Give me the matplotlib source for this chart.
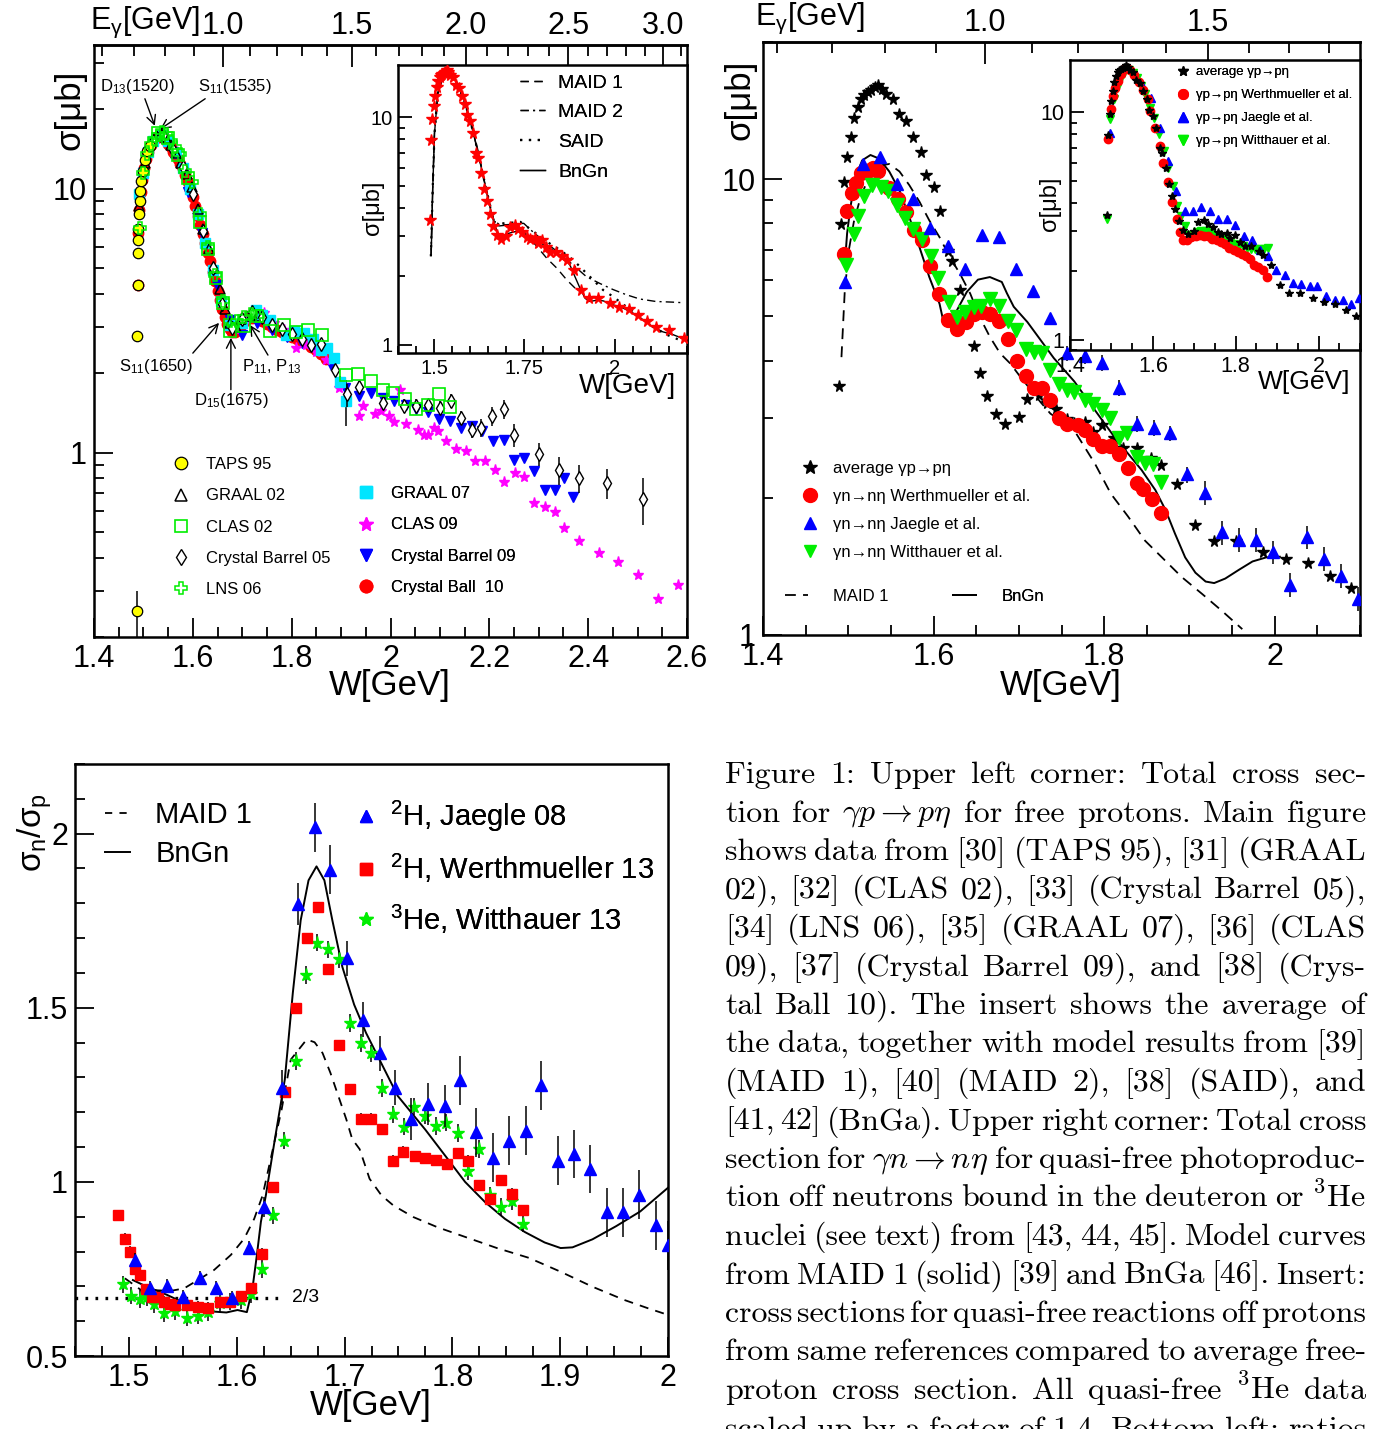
import re
import numpy as np
import matplotlib
matplotlib.use("Agg")
import matplotlib.pyplot as plt
from matplotlib.lines import Line2D
from matplotlib.ticker import (MultipleLocator, FixedLocator, LogLocator,
                               NullFormatter, FuncFormatter)

plt.rcParams['font.family'] = ['Liberation Sans', 'DejaVu Sans']
plt.rcParams['mathtext.fontset'] = 'custom'
plt.rcParams['mathtext.rm'] = 'Liberation Sans'
plt.rcParams['mathtext.it'] = 'Liberation Sans:italic'
plt.rcParams['mathtext.bf'] = 'Liberation Sans:bold'

# ---------------- upper left: free proton data (W [GeV], sigma [mub]) ----------------
taps_w = [1.4875, 1.4880, 1.4885, 1.4890, 1.4895, 1.4900, 1.4910, 1.4925, 1.4940, 1.4960, 1.4990, 1.5030, 1.5080, 1.5130]
taps_s = [0.25, 2.76, 4.3, 5.7, 6.4, 7.0, 8.0, 9.0, 9.8, 10.7, 11.7, 12.8, 13.9, 14.5]
taps_elo = [0.10, 0, 0, 0, 0, 0, 0, 0, 0, 0, 0, 0, 0, 0]
taps_ehi = [0.05, 0, 0, 0, 0, 0, 0, 0, 0, 0, 0, 0, 0, 0]

graal02_w = [1.492, 1.497, 1.503, 1.510, 1.518, 1.527, 1.536, 1.546, 1.556, 1.566, 1.577, 1.588, 1.599,
             1.610, 1.621, 1.632, 1.643, 1.654, 1.665, 1.676, 1.687, 1.698, 1.709, 1.720, 1.731]
graal02_s = [8.6, 11.0, 12.5, 14.0, 15.1, 15.8, 16.1, 15.6, 14.6, 13.6, 12.5, 11.4, 10.1,
             8.4, 7.0, 5.9, 5.0, 4.15, 3.5, 3.1, 3.0, 3.2, 3.3, 3.35, 3.3]

clas02_w = [1.53, 1.55, 1.57, 1.59, 1.615, 1.631, 1.647, 1.661, 1.676, 1.704, 1.73, 1.756, 1.784, 1.808,
            1.834, 1.862, 1.91, 1.934, 1.96, 1.984, 2.006, 2.03, 2.052, 2.076, 2.098, 2.12]
clas02_s = [16.2, 15.6, 13.4, 11.0, 7.5, 5.9, 4.6, 3.7, 2.88, 3.01, 3.3, 2.88, 3.05, 2.85,
            2.92, 2.78, 1.96, 1.99, 1.86, 1.73, 1.68, 1.59, 1.46, 1.51, 1.66, 1.49]

cb05_w = [1.52, 1.54, 1.56, 1.58, 1.60, 1.62, 1.64, 1.66, 1.68, 1.70, 1.72, 1.74, 1.76, 1.78, 1.80, 1.82, 1.84,
          1.86, 1.888, 1.912, 1.936, 1.984, 2.028, 2.052, 2.076, 2.10, 2.122, 2.142, 2.164, 2.184, 2.206,
          2.229, 2.249, 2.30, 2.341, 2.381, 2.438, 2.51]
cb05_s = [15.2, 16.0, 14.0, 12.1, 9.5, 6.9, 5.0, 3.65, 2.97, 3.2, 3.4, 3.25, 3.05, 2.93, 2.82, 2.70, 2.55,
          2.58, 2.06, 1.66, 1.77, 1.54, 1.50, 1.50, 1.51, 1.48, 1.57, 1.35, 1.22, 1.24, 1.375,
          1.46, 1.17, 0.985, 0.858, 0.798, 0.764, 0.665]
cb05_rel = [0.03, 0.03, 0.03, 0.03, 0.03, 0.03, 0.03, 0.03, 0.03, 0.03, 0.03, 0.03, 0.03, 0.03, 0.03, 0.03, 0.03,
            0.04, 0.05, 0.1, 0.05, 0.06, 0.06, 0.06, 0.06, 0.06, 0.06, 0.06, 0.07, 0.08, 0.08,
            0.08, 0.1, 0.1, 0.12, 0.12, 0.13, 0.2]

lns06_w = [1.493, 1.500, 1.507, 1.515, 1.522, 1.530, 1.538, 1.546, 1.555, 1.564, 1.574, 1.584, 1.598,
           1.615, 1.630, 1.645, 1.661, 1.675, 1.689, 1.703, 1.717, 1.731]
lns06_s = [7.1, 11.5, 13.5, 14.8, 15.4, 15.9, 16.4, 16.1, 15.2, 14.4, 13.5, 11.7, 10.6,
           8.0, 6.0, 4.7, 3.74, 3.15, 3.15, 3.25, 3.35, 3.3]

graal07_w = [1.492, 1.50, 1.51, 1.52, 1.535, 1.55, 1.565, 1.58, 1.595, 1.61, 1.625, 1.64, 1.656, 1.676,
             1.70, 1.728, 1.74, 1.756, 1.788, 1.804, 1.824, 1.844, 1.86, 1.872, 1.886, 1.898, 1.91]
graal07_s = [9.5, 11.5, 13.8, 15.2, 16.0, 15.1, 13.7, 12.0, 10.0, 8.0, 6.2, 4.9, 3.74, 3.05,
             3.1, 3.47, 3.33, 3.19, 2.78, 2.88, 2.84, 2.70, 2.45, 2.49, 2.28, 1.85, 1.57]
graal07_rel = [0, 0, 0, 0, 0, 0, 0, 0, 0, 0, 0, 0, 0, 0,
               0, 0, 0, 0, 0, 0, 0, 0, 0, 0, 0, 0.05, 0.2]

clas09_w = [1.685, 1.705, 1.725, 1.744, 1.765, 1.785, 1.808, 1.83, 1.85, 1.87, 1.896, 1.936, 1.944, 1.968,
            1.98, 1.996, 2.008, 2.02, 2.032, 2.056, 2.068, 2.076, 2.088, 2.096, 2.112, 2.132, 2.152, 2.172,
            2.192, 2.212, 2.230, 2.252, 2.270, 2.290, 2.312, 2.332, 2.352, 2.382, 2.422, 2.46, 2.50, 2.542, 2.582]
clas09_s = [2.95, 3.2, 3.4, 3.38, 3.1, 2.9, 2.49, 2.55, 2.4, 2.25, 1.76, 1.375, 1.50, 1.395,
            1.44, 1.375, 1.30, 1.73, 1.28, 1.22, 1.17, 1.17, 1.24, 1.21, 1.11, 1.03, 1.015, 0.925,
            0.925, 0.858, 0.775, 0.84, 0.805, 0.642, 0.62, 0.594, 0.518, 0.461, 0.417, 0.385, 0.343, 0.278, 0.314]

cb09_w = [1.50, 1.52, 1.54, 1.56, 1.59, 1.618, 1.649, 1.675, 1.70, 1.73, 1.76, 1.79, 1.82, 1.85, 1.88,
          1.908, 1.936, 1.96, 1.984, 2.008, 2.032, 2.052, 2.076, 2.098, 2.12, 2.142, 2.164, 2.186, 2.208,
          2.229, 2.25, 2.27, 2.29, 2.312, 2.332, 2.352, 2.37]
cb09_s = [11.5, 15.0, 15.6, 13.8, 9.7, 6.76, 4.3, 3.18, 2.78, 3.1, 2.9, 2.75, 2.6, 2.45, 2.15,
          1.76, 1.64, 1.68, 1.61, 1.57, 1.52, 1.46, 1.42, 1.34, 1.32, 1.24, 1.26, 1.21, 1.11,
          1.12, 0.935, 0.952, 0.853, 0.72, 0.72, 0.80, 0.676]

cb10_w = [1.4885, 1.490, 1.492, 1.495, 1.498, 1.502, 1.506, 1.510, 1.515, 1.520, 1.525, 1.530, 1.535, 1.540,
          1.545, 1.550, 1.555, 1.560, 1.565, 1.570, 1.575, 1.580, 1.585, 1.590, 1.595, 1.600, 1.605, 1.610,
          1.615, 1.620, 1.625, 1.630, 1.635, 1.640, 1.645, 1.650, 1.655, 1.660, 1.665, 1.670, 1.675, 1.680,
          1.685, 1.690, 1.695, 1.700, 1.705, 1.710, 1.720, 1.730, 1.740, 1.750, 1.760, 1.770, 1.780, 1.790,
          1.800, 1.810, 1.820, 1.830, 1.840, 1.850, 1.860, 1.870]
cb10_s = [4.3, 6.8, 8.3, 9.7, 10.8, 12.0, 13.0, 13.8, 14.6, 15.1, 15.5, 15.8, 15.9, 15.7,
          15.3, 14.8, 14.4, 13.8, 13.4, 12.9, 12.4, 11.9, 11.3, 10.6, 9.9, 9.3, 8.6, 7.9,
          7.3, 6.7, 6.2, 5.7, 5.3, 4.85, 4.45, 4.1, 3.8, 3.5, 3.27, 3.07, 2.93, 2.85,
          2.86, 2.93, 3.0, 3.08, 3.15, 3.2, 3.24, 3.22, 3.15, 3.06, 2.98, 2.91, 2.85, 2.79,
          2.74, 2.69, 2.64, 2.59, 2.52, 2.44, 2.36, 2.27]

# average of the free proton data (insert upper left, stars upper right)
avg_w = [1.489, 1.491, 1.4955, 1.499, 1.503, 1.507, 1.511, 1.515, 1.519, 1.523, 1.527, 1.531, 1.535, 1.539,
         1.544, 1.553, 1.560, 1.568, 1.576, 1.585, 1.591, 1.600, 1.607, 1.617, 1.622, 1.631, 1.639, 1.647,
         1.654, 1.663, 1.673, 1.684, 1.700, 1.709, 1.724, 1.733, 1.744, 1.757, 1.765, 1.778, 1.787, 1.798,
         1.811, 1.822, 1.838, 1.855, 1.867, 1.886, 1.907, 1.929, 1.955, 1.986, 2.013, 2.039, 2.065, 2.090,
         2.114, 2.151, 2.192]
avg_s = [3.52, 7.97, 9.87, 11.2, 12.4, 13.6, 14.4, 15.0, 15.3, 15.5, 15.7, 15.9, 16.1, 15.8,
         15.4, 15.0, 13.9, 13.4, 12.4, 11.5, 10.2, 9.6, 8.5, 6.95, 6.63, 5.7, 4.85, 4.30,
         3.76, 3.34, 3.05, 2.91, 3.01, 3.29, 3.37, 3.23, 3.13, 2.98, 2.92, 2.94, 2.79, 2.89,
         2.70, 2.57, 2.57, 2.45, 2.36, 2.14, 1.74, 1.61, 1.61, 1.52, 1.47, 1.44, 1.35, 1.27,
         1.20, 1.16, 1.07]

# model curves, insert upper left
ins_bngn_w = [1.492, 1.496, 1.501, 1.510, 1.524, 1.538, 1.551, 1.565, 1.583, 1.602, 1.620, 1.638, 1.652,
              1.666, 1.679, 1.693, 1.712, 1.730, 1.748, 1.766, 1.789, 1.812, 1.835, 1.858, 1.876, 1.890,
              1.904, 1.918, 1.931, 1.950, 1.968, 1.995, 2.023, 2.050, 2.078, 2.105, 2.133, 2.160, 2.192]
ins_bngn_s = [2.52, 4.78, 8.48, 12.7, 15.0, 16.0, 15.3, 14.0, 11.9, 9.4, 7.17, 5.29, 4.18,
              3.42, 3.04, 3.04, 3.11, 3.16, 3.11, 2.97, 2.84, 2.70, 2.57, 2.42, 2.24, 1.99,
              1.77, 1.60, 1.55, 1.57, 1.56, 1.50, 1.45, 1.38, 1.29, 1.20, 1.14, 1.11, 1.06]
ins_maid1_w = [1.492, 1.496, 1.501, 1.510, 1.524, 1.538, 1.551, 1.565, 1.583, 1.602, 1.620, 1.638, 1.652,
               1.666, 1.679, 1.702, 1.730, 1.757, 1.785, 1.812, 1.840, 1.867, 1.894]
ins_maid1_s = [2.6, 4.9, 8.6, 12.8, 15.1, 16.1, 15.4, 14.1, 12.0, 9.5, 7.3, 5.4, 4.3,
               3.5, 3.33, 3.36, 3.36, 3.04, 2.70, 2.40, 2.17, 1.93, 1.75]
ins_maid2_w = [1.491, 1.496, 1.501, 1.510, 1.524, 1.538, 1.551, 1.565, 1.583, 1.602, 1.620, 1.638, 1.652,
               1.666, 1.684, 1.721, 1.748, 1.776, 1.812, 1.849, 1.885, 1.922, 1.959, 1.995, 2.032, 2.069,
               2.114, 2.160, 2.192]
ins_maid2_s = [2.45, 4.8, 8.5, 12.7, 15.0, 16.0, 15.3, 14.0, 11.9, 9.4, 7.2, 5.35, 4.25,
               3.5, 3.36, 3.39, 3.42, 3.11, 2.79, 2.51, 2.24, 1.99, 1.86, 1.75, 1.66, 1.59,
               1.55, 1.54, 1.53]
ins_said_w = [1.491, 1.496, 1.501, 1.510, 1.524, 1.538, 1.551, 1.565, 1.583, 1.602, 1.620, 1.638, 1.652,
              1.666, 1.693, 1.739, 1.776, 1.812, 1.849, 1.885, 1.913, 1.940, 1.968, 1.995, 2.032, 2.069,
              2.105, 2.142, 2.192]
ins_said_s = [2.45, 4.8, 8.5, 12.7, 15.0, 16.0, 15.3, 14.0, 11.9, 9.4, 7.2, 5.35, 4.3,
              3.47, 3.42, 3.47, 3.14, 2.84, 2.61, 2.36, 2.13, 1.93, 1.74, 1.63, 1.47, 1.33,
              1.20, 1.11, 1.03]

# ---------------- upper right: quasi-free neutron data ----------------
qn_wm_w = [1.4947, 1.4986, 1.5038, 1.5085, 1.5144, 1.520, 1.525, 1.529, 1.535, 1.548, 1.558, 1.568, 1.577,
           1.587, 1.596, 1.606, 1.617, 1.628, 1.638, 1.647, 1.657, 1.666, 1.677, 1.687, 1.698, 1.708, 1.718,
           1.727, 1.737, 1.747, 1.757, 1.769, 1.778, 1.787, 1.797, 1.807, 1.818, 1.828, 1.838, 1.846, 1.856, 1.867]
qn_wm_s = [6.85, 8.52, 9.33, 9.82, 10.3, 10.4, 10.5, 10.6, 10.4, 9.55, 9.07, 8.48, 7.73,
           7.35, 6.45, 5.61, 4.92, 4.69, 4.87, 5.05, 5.11, 5.07, 4.89, 4.47, 4.0, 3.70, 3.48,
           3.48, 3.28, 2.99, 2.91, 2.89, 2.81, 2.69, 2.60, 2.60, 2.49, 2.32, 2.15, 2.09, 1.99, 1.85]
qn_ja_w = [1.496, 1.517, 1.537, 1.557, 1.576, 1.596, 1.617, 1.637, 1.657, 1.677, 1.697, 1.717, 1.737, 1.757,
           1.778, 1.797, 1.818, 1.838, 1.858, 1.877, 1.897, 1.918, 1.938, 1.958, 1.978, 1.998, 2.018, 2.038,
           2.058, 2.078, 2.098]
qn_ja_s = [5.95, 10.8, 11.2, 9.78, 9.07, 7.8, 7.13, 6.34, 7.56, 7.45, 6.34, 5.69, 4.97, 4.15,
           4.09, 3.96, 3.48, 2.91, 2.85, 2.77, 2.25, 2.05, 1.68, 1.62, 1.62, 1.52, 1.29, 1.64,
           1.47, 1.35, 1.20]
qn_ja_rel = [0.02, 0.02, 0.02, 0.02, 0.02, 0.02, 0.02, 0.02, 0.02, 0.02, 0.02, 0.02, 0.02, 0.04,
             0.04, 0.04, 0.04, 0.04, 0.04, 0.04, 0.04, 0.06, 0.06, 0.06, 0.06, 0.06, 0.06, 0.06,
             0.06, 0.06, 0.06]
qn_wi_w = [1.497, 1.5065, 1.5116, 1.519, 1.528, 1.538, 1.546, 1.557, 1.567, 1.5755, 1.587, 1.597, 1.605,
           1.618, 1.627, 1.637, 1.647, 1.656, 1.666, 1.677, 1.687, 1.697, 1.708, 1.718, 1.727, 1.737, 1.747,
           1.756, 1.765, 1.777, 1.787, 1.797, 1.807, 1.818, 1.827, 1.838, 1.848, 1.857, 1.867]
qn_wi_s = [6.47, 7.6, 8.3, 9.18, 9.7, 9.6, 9.42, 8.76, 8.2, 7.76, 7.4, 6.77, 6.06,
           5.38, 4.98, 5.11, 5.25, 5.28, 5.47, 5.28, 4.89, 4.66, 4.25, 4.18, 4.16, 3.81, 3.55,
           3.44, 3.42, 3.28, 3.21, 3.12, 2.99, 2.70, 2.77, 2.46, 2.39, 2.37, 2.17]
n_bngn_w = [1.496, 1.4986, 1.5026, 1.5085, 1.5163, 1.526, 1.536, 1.548, 1.560, 1.5716, 1.5834, 1.595, 1.607,
            1.612, 1.616, 1.623, 1.639, 1.652, 1.666, 1.680, 1.686, 1.694, 1.710, 1.725, 1.741, 1.765, 1.781,
            1.796, 1.812, 1.828, 1.844, 1.860, 1.872, 1.883, 1.895, 1.907, 1.919, 1.929, 1.942, 1.958, 1.974,
            1.990, 2.006]
n_bngn_s = [6.53, 7.6, 8.7, 10.1, 11.0, 11.3, 11.1, 10.4, 9.45, 8.25, 7.1, 6.1, 5.33,
            4.83, 4.78, 4.98, 5.66, 6.02, 6.1, 5.95, 5.62, 5.25, 4.86, 4.45, 4.05, 3.6, 3.27,
            2.99, 2.72, 2.5, 2.30, 2.08, 1.88, 1.67, 1.48, 1.37, 1.31, 1.30, 1.33, 1.39, 1.45,
            1.48, 1.485]
n_maid1_w = [1.492, 1.4959, 1.5006, 1.5065, 1.5144, 1.524, 1.536, 1.548, 1.560, 1.5716, 1.5834, 1.595, 1.607,
             1.619, 1.631, 1.643, 1.654, 1.666, 1.678, 1.690, 1.702, 1.714, 1.725, 1.737, 1.749, 1.765, 1.789,
             1.808, 1.828, 1.848, 1.867, 1.891, 1.915, 1.938, 1.962]
n_maid1_s = [4.07, 5.7, 6.98, 8.06, 9.13, 10.1, 10.7, 10.8, 10.4, 9.7, 8.93, 8.12, 7.46,
             6.75, 6.2, 5.61, 4.99, 4.51, 4.15, 3.94, 3.68, 3.45, 3.25, 3.06, 2.95, 2.81, 2.38,
             2.04, 1.82, 1.61, 1.485, 1.34, 1.23, 1.13, 1.03]

# insert upper right: quasi-free proton data
qp_wm_w = [1.4914, 1.4987, 1.5036, 1.5092, 1.5149, 1.523, 1.5311, 1.5375, 1.5456, 1.5553, 1.5659, 1.5764,
           1.5877, 1.5942, 1.6063, 1.6168, 1.6249, 1.6362, 1.6451, 1.6573, 1.6654, 1.6735, 1.6832, 1.6929,
           1.7034, 1.7139, 1.7236, 1.7341, 1.7439, 1.7544, 1.7641, 1.7746, 1.7843, 1.7948, 1.8045, 1.8142,
           1.8248, 1.8353, 1.845, 1.8547, 1.8652, 1.8757]
qp_wm_s = [7.66, 10.3, 11.8, 12.8, 13.7, 14.7, 15.5, 15.7, 15.4, 14.6, 13.6, 12.6,
           11.5, 10.1, 8.56, 7.11, 5.96, 4.93, 4.03, 3.38, 2.97, 2.74, 2.74, 2.83,
           2.87, 2.90, 2.87, 2.85, 2.78, 2.74, 2.68, 2.64, 2.53, 2.48, 2.43, 2.38,
           2.33, 2.27, 2.12, 2.09, 2.02, 1.88]
qp_ja_w = [1.4955, 1.5359, 1.5764, 1.5958, 1.6168, 1.6362, 1.6565, 1.6767, 1.6969, 1.7172, 1.7374, 1.7576,
           1.7778, 1.798, 1.8191, 1.8385, 1.8587, 1.8773, 1.8976, 1.9178, 1.938, 1.9583, 1.9785, 1.9971,
           2.0173, 2.0392, 2.0578, 2.078, 2.0982]
qp_ja_s = [8.14, 15.7, 12.98, 11.6, 8.56, 6.1, 4.5, 3.67, 3.68, 3.84, 3.68, 3.38,
           3.38, 3.18, 2.85, 2.74, 2.49, 2.34, 2.02, 1.93, 1.77, 1.75, 1.72, 1.73,
           1.56, 1.50, 1.50, 1.44, 1.53]
qp_wi_w = [1.489, 1.4971, 1.5052, 1.5133, 1.5214, 1.5294, 1.5416, 1.5521, 1.5618, 1.5715, 1.582, 1.5926,
           1.6039, 1.6152, 1.6265, 1.637, 1.6476, 1.6573, 1.667, 1.6775, 1.6872, 1.6977, 1.7074, 1.7172,
           1.7277, 1.7374, 1.748, 1.7576, 1.7673, 1.777, 1.7867, 1.7964, 1.8069, 1.8167, 1.8272, 1.8369,
           1.8474, 1.8579, 1.8677, 1.8774]
qp_wi_s = [3.38, 9.31, 11.5, 12.8, 13.9, 14.9, 15.4, 14.9, 14.1, 13.1, 12.0, 10.5,
           9.47, 8.0, 6.76, 5.7, 4.73, 3.87, 3.49, 3.16, 2.90, 2.90, 2.97, 3.0,
           3.0, 2.95, 2.87, 2.84, 2.78, 2.74, 2.68, 2.64, 2.59, 2.57, 2.53, 2.51,
           2.51, 2.51, 2.51, 2.53]

# ---------------- bottom left: ratio sigma_n / sigma_p ----------------
r_ja_w = [1.5055, 1.520, 1.535, 1.5506, 1.5657, 1.5812, 1.596, 1.6118, 1.6255, 1.6417, 1.6568, 1.6726,
          1.6869, 1.7027, 1.717, 1.7328, 1.7468, 1.762, 1.777, 1.793, 1.8074, 1.8221, 1.8376, 1.8524,
          1.8679, 1.8826, 1.8978, 1.9125, 1.928, 1.9435, 1.9583, 1.9734, 1.9889, 2.0]
r_ja = [0.775, 0.696, 0.70, 0.67, 0.723, 0.696, 0.666, 0.809, 0.928, 1.27, 1.797, 2.018,
        1.896, 1.642, 1.466, 1.369, 1.27, 1.18, 1.223, 1.218, 1.292, 1.142, 1.07, 1.118,
        1.147, 1.277, 1.061, 1.08, 1.037, 0.913, 0.913, 0.963, 0.875, 0.818]
r_ja_err = [0.02, 0.02, 0.02, 0.02, 0.02, 0.02, 0.02, 0.02, 0.03, 0.05, 0.06, 0.07,
            0.07, 0.05, 0.05, 0.05, 0.05, 0.06, 0.06, 0.06, 0.07, 0.07, 0.07, 0.07,
            0.07, 0.07, 0.07, 0.07, 0.07, 0.07, 0.07, 0.07, 0.07, 0.07]
r_wm_w = [1.490, 1.4963, 1.5007, 1.5055, 1.5103, 1.5159, 1.5214, 1.527, 1.5325, 1.538, 1.5432, 1.5535,
          1.5638, 1.5738, 1.5841, 1.5934, 1.6037, 1.6137, 1.6236, 1.634, 1.6446, 1.6546, 1.6649, 1.6751,
          1.685, 1.6953, 1.7052, 1.7151, 1.7247, 1.7347, 1.7446, 1.7546, 1.765, 1.7749, 1.7852, 1.7952,
          1.8052, 1.8148, 1.8251, 1.835, 1.845, 1.8554, 1.8653]
r_wm = [0.904, 0.837, 0.80, 0.75, 0.732, 0.692, 0.668, 0.668, 0.656, 0.649, 0.647, 0.647,
        0.642, 0.639, 0.654, 0.654, 0.673, 0.696, 0.794, 0.985, 1.258, 1.499, 1.699, 1.789,
        1.611, 1.392, 1.266, 1.182, 1.182, 1.151, 1.061, 1.087, 1.075, 1.068, 1.063, 1.051,
        1.082, 1.061, 0.991, 0.951, 1.004, 0.966, 0.92]
r_wm_err = 0.015
r_wi_w = [1.4945, 1.5018, 1.5103, 1.5166, 1.5232, 1.5325, 1.5424, 1.5535, 1.5638, 1.5738, 1.5841, 1.5941,
          1.6041, 1.6137, 1.6236, 1.634, 1.6439, 1.6546, 1.6641, 1.6747, 1.685, 1.6953, 1.7052, 1.7151,
          1.7247, 1.7347, 1.7449, 1.7548, 1.7648, 1.7743, 1.7849, 1.7945, 1.8051, 1.8148, 1.8251, 1.835,
          1.845, 1.8554, 1.8653]
r_wi = [0.706, 0.673, 0.664, 0.668, 0.649, 0.623, 0.629, 0.61, 0.616, 0.626, 0.651, 0.656,
        0.661, 0.677, 0.75, 0.904, 1.118, 1.347, 1.594, 1.687, 1.668, 1.639, 1.456, 1.399,
        1.369, 1.27, 1.194, 1.159, 1.216, 1.19, 1.16, 1.17, 1.14, 1.03, 1.094, 0.961,
        0.928, 0.944, 0.88]
r_wi_err = 0.025
r_bngn_w = [1.5037, 1.5166, 1.535, 1.5535, 1.572, 1.5904, 1.6007, 1.6094, 1.6146, 1.6187, 1.6224, 1.627,
            1.6354, 1.6446, 1.652, 1.6593, 1.6666, 1.674, 1.6813, 1.6887, 1.6979, 1.7089, 1.7199, 1.7347,
            1.7493, 1.7749, 1.7934, 1.8118, 1.8303, 1.8487, 1.8672, 1.8856, 1.9004, 1.9114, 1.9299, 1.952,
            1.9742, 2.0007]
r_bngn = [0.718, 0.699, 0.676, 0.649, 0.629, 0.625, 0.632, 0.626, 0.694, 0.79, 0.885, 0.961,
          1.123, 1.294, 1.542, 1.751, 1.866, 1.906, 1.866, 1.751, 1.618, 1.509, 1.428, 1.337,
          1.247, 1.15, 1.075, 1.0, 0.942, 0.894, 0.856, 0.826, 0.81, 0.812, 0.835, 0.873,
          0.915, 0.985]
r_maid1_w = [1.4963, 1.511, 1.5232, 1.5387, 1.5511, 1.5666, 1.579, 1.5945, 1.6069, 1.6162, 1.624, 1.6417,
             1.6501, 1.6575, 1.6649, 1.6722, 1.6796, 1.6869, 1.6942, 1.7016, 1.7071, 1.714, 1.7232, 1.7343,
             1.7454, 1.7638, 1.786, 1.8118, 1.8413, 1.8708, 1.9004, 1.9299, 1.9594, 1.9815, 2.0]
r_maid1 = [0.723, 0.69, 0.689, 0.687, 0.694, 0.723, 0.747, 0.79, 0.837, 0.894, 0.961, 1.209,
           1.351, 1.38, 1.409, 1.401, 1.37, 1.313, 1.247, 1.18, 1.123, 1.094, 1.009, 0.961,
           0.932, 0.899, 0.87, 0.842, 0.81, 0.782, 0.742, 0.699, 0.661, 0.637, 0.618]
two_thirds_w = [1.45, 1.639]
two_thirds = [2 / 3, 2 / 3]

caption_lines = [
    "Figure 1:  Upper left corner:  Total cross sec-",
    r"tion for $\gamma p \rightarrow p\eta$ for free protons.  Main figure",
    "shows data from [30] (TAPS 95), [31] (GRAAL",
    "02), [32] (CLAS 02), [33] (Crystal Barrel 05),",
    "[34] (LNS 06), [35] (GRAAL 07), [36] (CLAS",
    "09), [37] (Crystal Barrel 09), and [38] (Crys-",
    "tal Ball 10).  The insert shows the average of",
    "the data, together with model results from [39]",
    "(MAID 1), [40] (MAID 2), [38] (SAID), and",
    "[41, 42] (BnGa). Upper right corner: Total cross",
    r"section for $\gamma n \rightarrow n\eta$ for quasi-free photoproduc-",
    "tion off neutrons bound in the deuteron or $^3$He",
    "nuclei (see text) from [43, 44, 45]. Model curves",
    "from MAID 1 (solid) [39] and BnGa [46]. Insert:",
    "cross sections for quasi-free reactions off protons",
    "from same references compared to average free-",
    "proton cross section.  All quasi-free $^3$He data",
    "scaled up by a factor of 1.4. Bottom left: ratios",
]

MP = 0.938
FW, FH = 1379, 1429


def w_to_eg(w):
    w = np.asarray(w, dtype=float)
    return (w * w - MP * MP) / (2 * MP)


def eg_to_w(e):
    e = np.asarray(e, dtype=float)
    return np.sqrt(np.maximum(MP * MP + 2 * MP * e, 1e-9))


def rect(l, t, r, b):
    return [l / FW, 1 - b / FH, (r - l) / FW, (b - t) / FH]


def fx(x):
    return x / FW


def fy(y):
    return 1 - y / FH


fmt_g = FuncFormatter(lambda v, p: '%g' % round(v, 4))


def frame(ax, lab=22, maj=14, mnr=7, pad=5):
    ax.tick_params(which='both', direction='in', width=1.3, labelsize=lab,
                   top=False, right=False, pad=pad)
    ax.tick_params(which='major', length=maj)
    ax.tick_params(which='minor', length=mnr)
    for sp in ax.spines.values():
        sp.set_linewidth(1.8)


def log_y(ax):
    ax.set_yscale('log')
    ax.yaxis.set_major_locator(FixedLocator([1, 10]))
    ax.yaxis.set_major_formatter(fmt_g)
    ax.yaxis.set_minor_locator(LogLocator(base=10, subs=np.arange(2, 10), numticks=20))
    ax.yaxis.set_minor_formatter(NullFormatter())


def top_axis(ax, majors, minors):
    sec = ax.secondary_xaxis('top', functions=(w_to_eg, eg_to_w))
    sec.xaxis.set_major_locator(FixedLocator(majors))
    sec.xaxis.set_major_formatter(FuncFormatter(lambda v, p: '%.1f' % v))
    sec.xaxis.set_minor_locator(FixedLocator(minors))
    sec.tick_params(which='both', direction='in', width=1.3, labelsize=22, pad=3)
    sec.tick_params(which='major', length=16)
    sec.tick_params(which='minor', length=8)
    for sp in sec.spines.values():
        sp.set_linewidth(1.8)
    return sec


def legend_at(ax, handles, labels, x, y, fs, **kw):
    leg = ax.legend(handles, labels, loc='upper left', bbox_to_anchor=(fx(x), fy(y)),
                    bbox_transform=fig.transFigure, frameon=False, borderpad=0,
                    borderaxespad=0, fontsize=fs, **kw)
    ax.add_artist(leg)
    return leg


def mk(marker, ms, fc, ec=None, mew=1.0):
    return Line2D([], [], ls='none', marker=marker, ms=ms, mfc=fc,
                  mec=fc if ec is None else ec, mew=mew)


def ln(style, lw=1.2):
    return Line2D([], [], color='black', ls=style, lw=lw)


RED, BLUE, GREEN = '#ff0000', '#0000ff', '#00ee00'
MAG, CYAN, YEL = '#ff00ff', '#00e5ff', '#ffff00'
EB = dict(ls='none', ecolor='black', elinewidth=1.1, capsize=0)

fig = plt.figure(figsize=(FW / 100, FH / 100), dpi=100)

# ======================= upper left =======================
ax1 = fig.add_axes(rect(94, 45, 687, 637))
frame(ax1)
ax1.set_xlim(1.4, 2.6)
log_y(ax1)
ax1.set_ylim(0.2, 35)
ax1.xaxis.set_major_locator(MultipleLocator(0.2))
ax1.xaxis.set_minor_locator(MultipleLocator(0.05))
ax1.xaxis.set_major_formatter(fmt_g)
top_axis(ax1, [1.0, 1.5, 2.0, 2.5, 3.0], np.arange(0.6, 3.15, 0.1))

ax1.plot(cb10_w, cb10_s, ls='none', marker='o', ms=7.5, mfc=RED, mec=RED, zorder=3)
ax1.plot(cb09_w, cb09_s, ls='none', marker='v', ms=7.5, mfc=BLUE, mec=BLUE, zorder=3)
ax1.errorbar(graal07_w, graal07_s, yerr=np.array(graal07_rel) * np.array(graal07_s),
             marker='s', ms=7, mfc=CYAN, mec=CYAN, zorder=4, **EB)
ax1.plot(clas09_w, clas09_s, ls='none', marker='*', ms=8, mfc=MAG, mec=MAG, zorder=4)
ax1.errorbar(cb05_w, cb05_s, yerr=np.array(cb05_rel) * np.array(cb05_s),
             marker='d', ms=7, mfc='white', mec='black', mew=1.0, zorder=5, **EB)
ax1.plot(graal02_w, graal02_s, ls='none', marker='^', ms=7.5, mfc='none', mec='black', mew=1.1, zorder=5)
ax1.errorbar(taps_w, taps_s, yerr=[taps_elo, taps_ehi], marker='o', ms=7.5, mfc=YEL, mec='black',
             mew=0.9, zorder=6, **EB)
ax1.plot(clas02_w, clas02_s, ls='none', marker='s', ms=8, mfc='none', mec=GREEN, mew=1.2, zorder=6)
ax1.plot(lns06_w, lns06_s, ls='none', marker='P', ms=8, mfc='none', mec=GREEN, mew=1.1, zorder=7)

arrow = dict(arrowstyle='->', lw=1.0, color='black', shrinkA=0, shrinkB=0, mutation_scale=16)
ax1.annotate('', xy=(1.523, 17.3), xytext=(1.503, 21.9), arrowprops=arrow)
ax1.annotate('', xy=(1.534, 16.8), xytext=(1.625, 21.9), arrowprops=arrow)
ax1.annotate('', xy=(1.653, 3.1), xytext=(1.600, 2.38), arrowprops=arrow)
ax1.annotate('', xy=(1.677, 2.72), xytext=(1.677, 1.73), arrowprops=arrow)
ax1.annotate('', xy=(1.716, 3.04), xytext=(1.752, 2.34), arrowprops=arrow)
ax1.text(1.487, 24.3, 'D$_{13}$(1520)', fontsize=12, ha='center', va='center')
ax1.text(1.685, 24.3, 'S$_{11}$(1535)', fontsize=12, ha='center', va='center')
ax1.text(1.5255, 2.11, 'S$_{11}$(1650)', fontsize=12, ha='center', va='center')
ax1.text(1.677, 1.57, 'D$_{15}$(1675)', fontsize=12, ha='center', va='center')
ax1.text(1.760, 2.11, 'P$_{11}$, P$_{13}$', fontsize=12, ha='center', va='center')

legend_at(ax1, [mk('o', 9, YEL, 'black', 0.9), mk('^', 9, 'none', 'black', 1.1),
                mk('s', 9, 'none', GREEN, 1.2), mk('d', 8, 'none', 'black', 1.0),
                mk('P', 9, 'none', GREEN, 1.1)],
          ['TAPS 95', 'GRAAL 02', 'CLAS 02', 'Crystal Barrel 05', 'LNS 06'],
          173, 457, 12, handlelength=1.0, handletextpad=1.0, labelspacing=0.98)
legend_at(ax1, [mk('s', 9, CYAN), mk('*', 10, MAG), mk('v', 9, BLUE), mk('o', 9, RED)],
          ['GRAAL 07', 'CLAS 09', 'Crystal Barrel 09', 'Crystal Ball  10'],
          358, 486, 12, handlelength=1.0, handletextpad=1.0, labelspacing=0.98)

fig.text(fx(390), fy(686), 'W[GeV]', fontsize=25, ha='center', va='center')
fig.text(fx(70), fy(110), 'σ[μb]', fontsize=25, rotation=90, ha='center', va='center')
fig.text(fx(90), fy(22), r'E$_{\mathrm{\gamma}}$[GeV]', fontsize=22, ha='left', va='center')

# insert upper left
ax1i = fig.add_axes(rect(398, 65, 687, 353))
frame(ax1i, lab=14.5, maj=10, mnr=5, pad=4)
ax1i.set_xlim(1.4, 2.2)
log_y(ax1i)
ax1i.set_ylim(0.92, 17)
ax1i.xaxis.set_major_locator(MultipleLocator(0.25))
ax1i.xaxis.set_minor_locator(MultipleLocator(0.05))
ax1i.xaxis.set_major_formatter(fmt_g)
ax1i.plot(ins_maid1_w, ins_maid1_s, color='black', lw=1.0, ls=(0, (6, 4)))
ax1i.plot(ins_maid2_w, ins_maid2_s, color='black', lw=1.0, ls=(0, (6, 3, 1.5, 3)))
ax1i.plot(ins_said_w, ins_said_s, color='black', lw=1.6, ls=(0, (1, 3)))
ax1i.plot(ins_bngn_w, ins_bngn_s, color='black', lw=1.0)
ax1i.plot(avg_w, avg_s, ls='none', marker='*', ms=8.5, mfc=RED, mec=RED, zorder=4)
legend_at(ax1i, [ln((0, (6, 4)), 1.0), ln((0, (6, 3, 1.5, 3)), 1.0), ln((0, (1, 3)), 1.6), ln('-', 1.0)],
          ['MAID 1', 'MAID 2', 'SAID', 'BnGn'], 520, 74, 14,
          handlelength=1.29, handletextpad=0.67, labelspacing=0.62)
fig.text(fx(373), fy(208), 'σ[μb]', fontsize=17, rotation=90, ha='center', va='center')
fig.text(fx(676), fy(386), 'W[GeV]', fontsize=20, ha='right', va='center')

# ======================= upper right =======================
ax2 = fig.add_axes(rect(763, 42, 1360, 635))
frame(ax2)
ax2.set_xlim(1.4, 2.1)
log_y(ax2)
ax2.set_ylim(1, 20)
ax2.xaxis.set_major_locator(MultipleLocator(0.2))
ax2.xaxis.set_minor_locator(MultipleLocator(0.05))
ax2.xaxis.set_major_formatter(fmt_g)
top_axis(ax2, [1.0, 1.5], np.arange(0.6, 1.85, 0.1))

ax2.plot(n_maid1_w, n_maid1_s, color='black', lw=1.3, ls=(0, (6, 4)), zorder=2)
ax2.plot(n_bngn_w, n_bngn_s, color='black', lw=1.4, zorder=2)
ax2.plot(avg_w, avg_s, ls='none', marker='*', ms=8.5, mfc='black', mec='black', zorder=3)
ax2.plot(qn_wm_w, qn_wm_s, ls='none', marker='o', ms=10, mfc=RED, mec=RED, zorder=4)
ax2.plot(qn_wi_w, qn_wi_s, ls='none', marker='v', ms=9.5, mfc=GREEN, mec=GREEN, zorder=4)
ax2.errorbar(qn_ja_w, qn_ja_s, yerr=np.array(qn_ja_rel) * np.array(qn_ja_s),
             marker='^', ms=9, mfc=BLUE, mec=BLUE, zorder=5, **EB)

legend_at(ax2, [mk('*', 10, 'black'), mk('o', 10, RED), mk('^', 9, BLUE), mk('v', 9, GREEN)],
          ['average γp→pη', 'γn→nη Werthmueller et al.', 'γn→nη Jaegle et al.', 'γn→nη Witthauer et al.'],
          802, 461, 12, handlelength=1.0, handletextpad=0.87, labelspacing=0.78)
legend_at(ax2, [ln((0, (6, 4)), 1.3)], ['MAID 1'], 785, 589, 12, handlelength=1.4, handletextpad=1.5)
legend_at(ax2, [ln('-', 1.4)], ['BnGn'], 953, 589, 12, handlelength=1.4, handletextpad=1.5)

fig.text(fx(1061), fy(685), 'W[GeV]', fontsize=25, ha='center', va='center')
fig.text(fx(740), fy(100), 'σ[μb]', fontsize=25, rotation=90, ha='center', va='center')
fig.text(fx(755), fy(1), r'E$_{\mathrm{\gamma}}$[GeV]', fontsize=22, ha='left', va='top')

# insert upper right
ax2i = fig.add_axes(rect(1070, 60, 1360, 350))
frame(ax2i, lab=15.5, maj=10, mnr=5, pad=4)
ax2i.set_xlim(1.4, 2.1)
log_y(ax2i)
ax2i.set_ylim(0.9, 17)
ax2i.xaxis.set_major_locator(MultipleLocator(0.2))
ax2i.xaxis.set_minor_locator(MultipleLocator(0.05))
ax2i.xaxis.set_major_formatter(fmt_g)
ax2i.plot(qp_wi_w, qp_wi_s, ls='none', marker='v', ms=6, mfc=GREEN, mec=GREEN, zorder=3)
ax2i.plot(qp_ja_w, qp_ja_s, ls='none', marker='^', ms=6, mfc=BLUE, mec=BLUE, zorder=3)
ax2i.plot(qp_wm_w, qp_wm_s, ls='none', marker='o', ms=6, mfc=RED, mec=RED, zorder=4)
ax2i.plot(avg_w, avg_s, ls='none', marker='*', ms=6, mfc='black', mec='black', zorder=5)
legend_at(ax2i, [mk('*', 7, 'black'), mk('o', 7, RED), mk('^', 6.5, BLUE), mk('v', 6.5, GREEN)],
          ['average γp→pη', 'γp→pη Werthmueller et al.', 'γp→pη Jaegle et al.', 'γp→pη Witthauer et al.'],
          1178, 66, 9.5, handlelength=0.8, handletextpad=0.58, labelspacing=0.82)
fig.text(fx(1050), fy(204), 'σ[μb]', fontsize=17, rotation=90, ha='center', va='center')
fig.text(fx(1350), fy(382), 'W[GeV]', fontsize=19, ha='right', va='center')

# ======================= bottom left =======================
ax3 = fig.add_axes(rect(75, 764, 668, 1356))
frame(ax3)
ax3.set_xlim(1.45, 2.0)
ax3.set_ylim(0.5, 2.2)
ax3.xaxis.set_major_locator(MultipleLocator(0.1))
ax3.xaxis.set_minor_locator(MultipleLocator(0.025))
ax3.xaxis.set_major_formatter(fmt_g)
ax3.yaxis.set_major_locator(MultipleLocator(0.5))
ax3.yaxis.set_minor_locator(MultipleLocator(0.1))
ax3.yaxis.set_major_formatter(fmt_g)

ax3.plot(r_maid1_w, r_maid1, color='black', lw=1.3, ls=(0, (5, 4)), zorder=2)
ax3.plot(r_bngn_w, r_bngn, color='black', lw=1.4, zorder=2)
ax3.plot(two_thirds_w, two_thirds, color='black', lw=2.4, ls=(0, (0.8, 2.2)), zorder=2)
ax3.text(1.651, 0.667, '2/3', fontsize=14, ha='left', va='center')
ax3.errorbar(r_wi_w, r_wi, yerr=r_wi_err, marker='*', ms=9.5, mfc=GREEN, mec=GREEN, zorder=3, **EB)
ax3.errorbar(r_wm_w, r_wm, yerr=r_wm_err, marker='s', ms=7.5, mfc=RED, mec=RED, zorder=4, **EB)
ax3.errorbar(r_ja_w, r_ja, yerr=r_ja_err, marker='^', ms=8.5, mfc=BLUE, mec=BLUE, zorder=5, **EB)

legend_at(ax3, [ln((0, (4, 4)), 1.3), ln('-', 1.4)], ['MAID 1', 'BnGn'], 105, 801, 21,
          handlelength=0.86, handletextpad=0.86, labelspacing=0.38)
legend_at(ax3, [mk('^', 9, BLUE), mk('s', 9, RED), mk('*', 10, GREEN)],
          ['$^{2}$H, Jaegle 08', '$^{2}$H, Werthmueller 13', '$^{3}$He, Witthauer 13'],
          357, 799, 21, handlelength=0.6, handletextpad=0.53, labelspacing=0.6)

fig.text(fx(371), fy(1406), 'W[GeV]', fontsize=25, ha='center', va='center')
fig.text(fx(35), fy(832), r'σ$_{\mathrm{n}}$/σ$_{\mathrm{p}}$', fontsize=24, rotation=90,
         ha='center', va='center')

# ======================= caption (justified) =======================
renderer = fig.canvas.get_renderer()
x_left, x_right = 725, 1366
for i, line in enumerate(caption_lines):
    tokens = re.findall(r'\$[^$]*\$\S*|\S+', line)
    words = [fig.text(0, 0, t, fontsize=23, family='cmr10', math_fontfamily='cm', va='baseline')
             for t in tokens]
    widths = [w.get_window_extent(renderer).width for w in words]
    gap = (x_right - x_left - sum(widths)) / max(len(words) - 1, 1)
    gap = max(gap, 4)
    x = x_left
    base = 783 + 38.5 * i
    for w, wd in zip(words, widths):
        w.set_position((fx(x), fy(base)))
        x += wd + gap

fig.savefig('out.png', dpi=100)
